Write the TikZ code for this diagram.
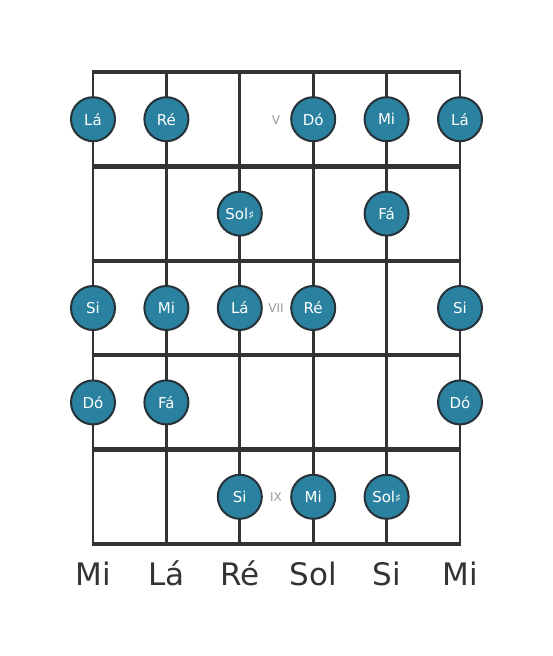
\documentclass[tikz,border=0pt]{standalone}
\usepackage{fontspec}
\setmainfont{DejaVu Sans}
\usetikzlibrary{positioning}
\definecolor{dotblue}{HTML}{2B81A0}
\definecolor{dotrim}{HTML}{263238}
\definecolor{wire}{HTML}{333333}
\newcommand{\shp}{{\fontsize{12}{12}\selectfont ♯}}
\begin{document}
\begin{tikzpicture}[x=1pt,y=-1pt]
\tikzstyle{note}=[circle,fill=dotblue,draw=dotrim,line width=2pt,minimum size=44pt,inner sep=0pt,text=white,font=\fontsize{15}{15}\selectfont]
\tikzstyle{string}=[draw=wire,line width=2.8pt]
\tikzstyle{fret}=[draw=wire,line width=4.5pt]
\tikzstyle{fretnum}=[text=gray!80,font=\fontsize{12}{12}\selectfont]
\tikzstyle{openname}=[text=wire,font=\fontsize{31}{31}\selectfont,anchor=base]

% Fix the page size
\useasboundingbox (0,0) rectangle (553,656);

% Define string and fret spacing
\def\strsep{73.4}
\def\fretsep{94.4}

% End points of the strings
\foreach \name in {1,...,6}{
  \coordinate (T-\name) at (93+\strsep*\name-\strsep,72);
  \coordinate (B-\name) at (93+\strsep*\name-\strsep,544);
}

% End points of the frets
\foreach \name in {0,...,5}{
  \coordinate (L-\name) at (93,72+\fretsep*\name);
  \coordinate (R-\name) at (460,72+\fretsep*\name);
}

% Draw the strings
\foreach \name in {1,...,6}
  \path[string] (T-\name) -- (B-\name);

% Draw the frets
\foreach \name in {0,...,5}
  \path[fret] ([xshift=-1.4pt]L-\name) -- ([xshift=1.4pt]R-\name);

% Draw the notes
\foreach \s / \f / \txt in {1/1/Lá, 2/1/Ré, 4/1/Dó, 5/1/Mi, 6/1/Lá,
                            3/2/Sol\shp, 5/2/Fá,
                            1/3/Si, 2/3/Mi, 3/3/Lá, 4/3/Ré, 6/3/Si,
                            1/4/Dó, 2/4/Fá, 6/4/Dó,
                            3/5/Si, 4/5/Mi, 5/5/Sol\shp}
  \node[note] (N-\s-\f) at (93+\strsep*\s-\strsep,72+\fretsep*\f-\fretsep/2) {\txt};

% Fret numbers
\node[fretnum] (V) at (276,120) {V};
\node[fretnum] (VII) at (276,308) {VII};
\node[fretnum] (IX) at (276,497) {IX};

% Names of the open strings
\foreach \name / \txt in {1/Mi, 2/Lá, 3/Ré, 4/Sol, 5/Si, 6/Mi}
  \node[openname] (S-\name) at ([yshift=-41pt]B-\name) {\txt};

\end{tikzpicture}
\end{document}
